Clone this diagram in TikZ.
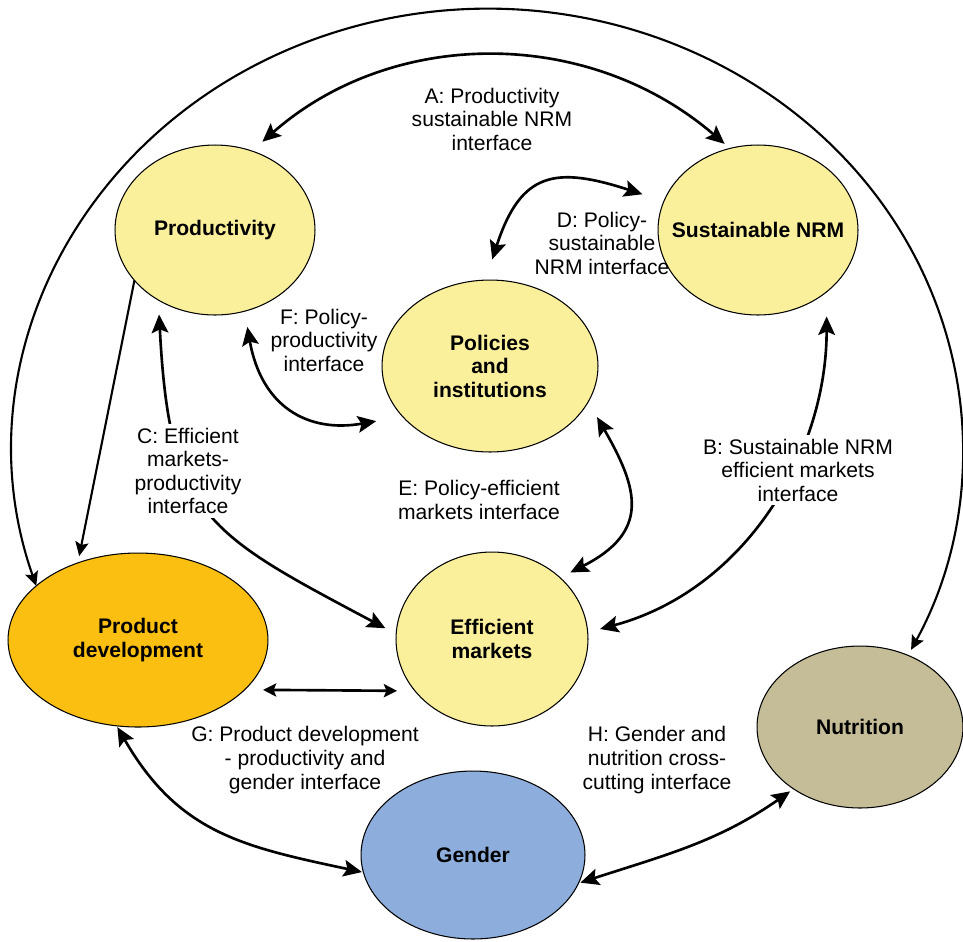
\documentclass[tikz,border=0pt]{standalone}
\usepackage{fontspec}
\setmainfont{Liberation Sans}
\usetikzlibrary{shapes.geometric,arrows.meta}
\definecolor{paleyellow}{HTML}{FAF09B}
\definecolor{amber}{HTML}{FBBF12}
\definecolor{khaki}{HTML}{C4BD97}
\definecolor{softblue}{HTML}{8DAEDC}

\begin{document}
\begin{tikzpicture}[x=0.02cm, y=-0.02cm,
  font=\fontsize{12}{13.4}\selectfont,
  hub/.style={ellipse, draw=black, line width=0.6pt, inner sep=0pt, outer sep=0pt,
    align=center, font=\fontsize{12}{13.4}\selectfont\bfseries},
  link/.style={line width=1.5pt, >={Stealth[length=10.5pt,width=9.5pt,inset=2pt]}},
  flatlink/.style={line width=1.5pt, >={Stealth[length=7.5pt,width=7.5pt,inset=1.5pt]}},
  thinlink/.style={line width=1.2pt, >={Stealth[length=8pt,width=7.5pt,inset=1.5pt]}},
  note/.style={align=center, inner sep=2pt}]
\useasboundingbox (0,0) rectangle (963,941);

% domains
\node[hub, fill=paleyellow, minimum width=4cm, minimum height=3.4cm] (prod) at (215,230) {Productivity};
\node[hub, fill=paleyellow, minimum width=4cm, minimum height=3.4cm] (nrm) at (758,230) {\makebox[0pt]{Sustainable NRM}};
\node[hub, fill=paleyellow, minimum width=4.32cm, minimum height=3.44cm] (pol) at (490,366) {Policies\\and\\institutions};
\node[hub, fill=paleyellow, minimum width=3.84cm, minimum height=3.48cm] (mkt) at (492,639) {Efficient\\markets};
\node[hub, fill=amber, minimum width=5.2cm, minimum height=3.48cm] (dev) at (138,640) {Product\\development};
\node[hub, fill=khaki, minimum width=4.12cm, minimum height=3.24cm] (nut) at (860,727) {Nutrition};
\node[hub, fill=softblue, minimum width=4.48cm, minimum height=3.36cm] (gen) at (473,855) {Gender};

% interfaces
\draw[link, <->, shorten <=0.28cm, shorten >=0.14cm] (prod.65.5) to[bend left=41] (nrm.109);
\draw[link, <->, shorten <=0.436cm, shorten >=0.452cm] (pol.93.7) to[out=72, in=162, looseness=1.5] (nrm.163.4);
\draw[link, <->, shorten <=0.32cm, shorten >=0.536cm] (prod.-70.2) to[out=-80, in=190, looseness=1.3] (pol.210.6);
\draw[link, <->, shorten <=0.29cm, shorten >=0.244cm] (prod.231.5) to[out=-87, in=152, looseness=1.35] (mkt.177.7);
\draw[link, <->, shorten <=0.494cm, shorten >=0.256cm] (nrm.-42.5) to[out=-90, in=15] (mkt.4.6);
\draw[link, <->, shorten <=0.354cm, shorten >=0.23cm] (pol.-20) to[out=-60, in=27, looseness=1.45] (mkt.42.3);
\draw[link, <->, shorten <=0.03cm, shorten >=0.03cm] (dev.-104) to[out=-60, in=168, looseness=1.1] (gen.189.5);
\draw[link, <->, shorten <=0.04cm, shorten >=0.086cm] (gen.-15.2) to[out=18, in=215] (nut.223.7);
\draw[flatlink, <->, shorten <=0.368cm, shorten >=0.36cm] (dev.-25.84) -- (mkt.214.04);
\draw[thinlink, ->, shorten >=0.14cm] (prod.212.4) -- (dev.128);
\draw[thinlink, <->] (dev.152.8) arc[start angle=198, end angle=-27, x radius=9.5cm, y radius=8.82cm];

% interface labels
\node[note] (labA) at (492,119) {A: Productivity\\sustainable NRM\\interface};
\node[note] (labD) at (602,243) {D: Policy-\\sustainable\\NRM interface};
\node[note] (labF) at (324,340) {F: Policy-\\productivity\\interface};
\node[note, fill=white] (labC) at (188,471) {C: Efficient\\markets-\\productivity\\interface};
\node[note, fill=white] (labB) at (798,470) {B: Sustainable NRM\\efficient markets\\interface};
\node[note] (labE) at (479,500) {E: Policy-efficient\\markets interface};
\node[note] (labG) at (305,760) {G: Product development\\- productivity and\\gender interface};
\node[note] (labH) at (657,760) {H: Gender and\\nutrition cross-\\cutting interface};
\end{tikzpicture}
\end{document}
